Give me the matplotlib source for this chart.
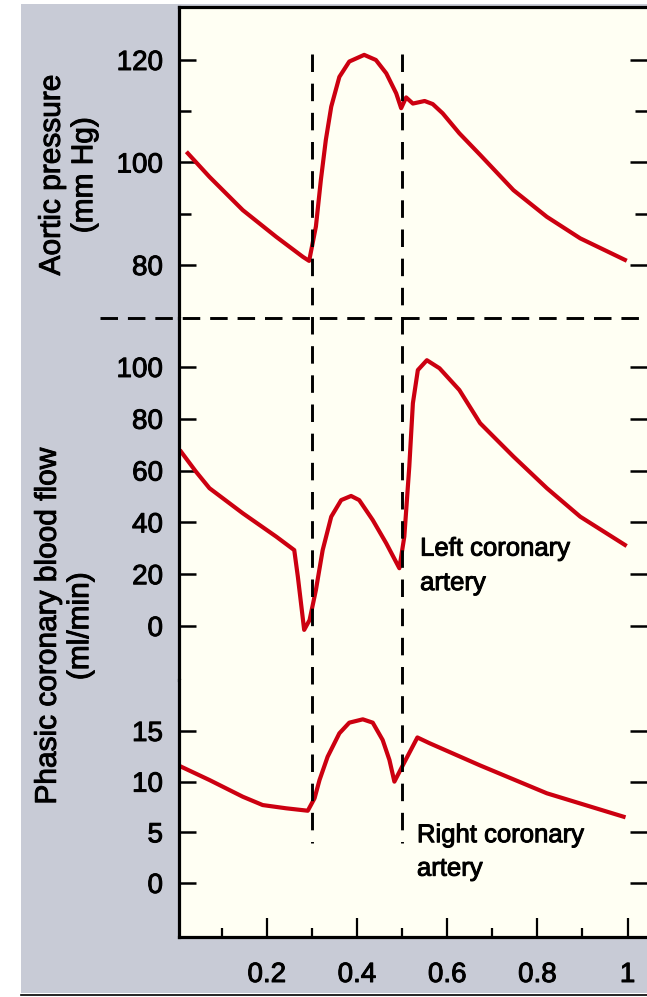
import matplotlib.pyplot as plt
import matplotlib.patheffects as pe
from matplotlib.lines import Line2D
from matplotlib.patches import Rectangle
from matplotlib.transforms import blended_transform_factory

# -----------------------------
# DATA
# -----------------------------

# time in seconds
t_aortic = [0.025, 0.073, 0.147, 0.221, 0.280, 0.294, 0.309, 0.320, 0.331, 0.343,
            0.361, 0.383, 0.416, 0.442, 0.465, 0.487, 0.498, 0.509, 0.524, 0.550,
            0.568, 0.590, 0.627, 0.673, 0.747, 0.821, 0.895, 0.994]
p_aortic = [101.8, 97.2, 90.7, 85.5, 81.6, 80.8, 87.5, 96.6, 104.4, 110.9,
            116.7, 119.7, 121.0, 120.0, 117.4, 113.5, 110.6, 112.7, 111.5, 112.0,
            111.4, 109.6, 105.7, 101.5, 94.6, 89.4, 85.2, 81.0]

t_left = [0.010, 0.043, 0.073, 0.147, 0.221, 0.261, 0.269, 0.283, 0.295, 0.309,
          0.324, 0.343, 0.365, 0.387, 0.405, 0.435, 0.465, 0.494, 0.505, 0.516,
          0.524, 0.535, 0.555, 0.583, 0.627, 0.673, 0.747, 0.821, 0.895, 0.994]
flow_left = [67.3, 59.6, 53.2, 43.5, 34.5, 29.3, 19.0, -1.5, 2.3, 13.9,
             29.3, 42.2, 48.6, 50.2, 48.6, 40.9, 31.9, 22.3, 34.5, 61.5,
             86.0, 98.8, 102.6, 99.5, 91.1, 78.3, 65.4, 53.2, 42.2, 31.3]

t_right = [0.010, 0.073, 0.147, 0.191, 0.243, 0.291, 0.306, 0.317, 0.335, 0.361,
           0.383, 0.413, 0.435, 0.457, 0.472, 0.483, 0.502, 0.534, 0.561, 0.673,
           0.821, 0.991]
flow_right = [11.48, 10.16, 8.51, 7.69, 7.37, 7.13, 8.36, 10.16, 12.46, 14.77,
              15.82, 16.15, 15.82, 14.11, 12.14, 10.0, 11.64, 14.36, 13.79, 11.6,
              8.85, 6.54]

# phase markers (start / end of systole)
phase_times = [0.3, 0.5]

x_ticks = [0.2, 0.4, 0.6, 0.8, 1.0]
x_tick_labels = ["0.2", "0.4", "0.6", "0.8", "1"]
x_minor = [0.1, 0.3, 0.5, 0.7, 0.9]

top_ticks = [80, 100, 120]
top_minor = [90, 110]
mid_ticks = [0, 20, 40, 60, 80, 100]
bot_ticks = [0, 5, 10, 15]

# -----------------------------
# STYLE
# -----------------------------

plt.rcParams['font.family'] = ['Liberation Sans', 'DejaVu Sans']

RED = "#cc0010"
CREAM = "#fffff3"
GRAY = "#c8cbd6"
HEAVY = [pe.withStroke(linewidth=0.7, foreground="black")]  # slightly heavier text

W_PX, H_PX = 647, 997


def fy(px):
    return 1 - px / H_PX


fig = plt.figure(figsize=(W_PX / 100, H_PX / 100), dpi=100)
fig.patch.set_facecolor("white")

# gray panel behind everything
fig.patches.append(Rectangle((21 / W_PX, fy(993)), 1 - 21 / W_PX, fy(4) - fy(993),
                             transform=fig.transFigure, facecolor=GRAY,
                             edgecolor="none", zorder=-2))
fig.add_artist(Line2D([21 / W_PX, 1], [fy(995), fy(995)], color="black", lw=1.2))

left = 179 / W_PX
width = 1 - left

ax_top = fig.add_axes([left, fy(318), width, fy(7) - fy(318)])
ax_mid = fig.add_axes([left, fy(680), width, fy(318) - fy(680)])
ax_bot = fig.add_axes([left, fy(937), width, fy(680) - fy(937)])

ax_top.set_ylim(69.66, 130.34)
ax_mid.set_ylim(-20.85, 118.9)
ax_bot.set_ylim(-5.33, 20.03)

for ax in (ax_top, ax_mid, ax_bot):
    ax.set_facecolor(CREAM)
    ax.set_xlim(0.0055, 1.043)
    for s in ax.spines.values():
        s.set_visible(False)
        s.set_linewidth(2.3)
        s.set_color("black")
    ax.spines["left"].set_visible(True)
    ax.tick_params(axis="y", which="major", direction="in", left=True, right=True,
                   length=12.5, width=1.8, pad=11.5, labelsize=20, colors="black")
    ax.tick_params(axis="y", which="minor", direction="in", left=True, right=True,
                   length=8.5, width=1.8)

ax_top.spines["top"].set_visible(True)
ax_bot.spines["bottom"].set_visible(True)

# curves
ax_top.plot(t_aortic, p_aortic, color=RED, lw=3.0, solid_joinstyle="round")
ax_mid.plot(t_left, flow_left, color=RED, lw=3.0, solid_joinstyle="round")
ax_bot.plot(t_right, flow_right, color=RED, lw=3.0, solid_joinstyle="round")

# y ticks
ax_top.set_yticks(top_ticks)
ax_top.set_yticks(top_minor, minor=True)
ax_mid.set_yticks(mid_ticks)
ax_bot.set_yticks(bot_ticks)

# x ticks only on the bottom panel
for ax in (ax_top, ax_mid):
    ax.set_xticks([])
    ax.tick_params(axis="x", which="both", bottom=False, labelbottom=False)

ax_bot.set_xticks(x_ticks)
ax_bot.set_xticklabels(x_tick_labels)
ax_bot.set_xticks(x_minor, minor=True)
ax_bot.tick_params(axis="x", which="major", direction="in", length=14, width=1.6,
                   pad=18, labelsize=20)
ax_bot.tick_params(axis="x", which="minor", direction="in", length=6.5, width=1.6)

for ax in (ax_top, ax_mid, ax_bot):
    for lab in ax.get_yticklabels() + ax.get_xticklabels():
        lab.set_path_effects(HEAVY)

# -----------------------------
# DASHED PHASE LINES
# -----------------------------

vtrans = blended_transform_factory(ax_top.transData, fig.transFigure)
for t in phase_times:
    fig.add_artist(Line2D([t, t], [fy(54), fy(843)], transform=vtrans,
                          color="black", lw=2.1, linestyle=(0, (6.0, 4.0)),
                          zorder=5))

htrans = blended_transform_factory(fig.transFigure, ax_top.transAxes)
fig.add_artist(Line2D([100 / W_PX, 1], [0, 0], transform=htrans,
                      color="black", lw=2.1, linestyle=(0, (6.0, 3.4)), zorder=5))

# -----------------------------
# LABELS
# -----------------------------

fig.text(68 / W_PX, fy(175), "Aortic pressure\n(mm Hg)", rotation=90,
         ha="center", va="center", multialignment="center", fontsize=21.5,
         path_effects=HEAVY)
fig.text(64 / W_PX, fy(626), "Phasic coronary blood flow\n(ml/min)", rotation=90,
         ha="center", va="center", multialignment="center", fontsize=21.5,
         path_effects=HEAVY)

ax_mid.text(0.540, 34.5, "Left coronary\nartery", ha="left", va="top",
            fontsize=18.5, linespacing=1.55, path_effects=HEAVY)
ax_bot.text(0.533, 5.9, "Right coronary\nartery", ha="left", va="top",
            fontsize=18.5, linespacing=1.5, path_effects=HEAVY)

plt.savefig("out.png", dpi=100, facecolor=fig.get_facecolor())
